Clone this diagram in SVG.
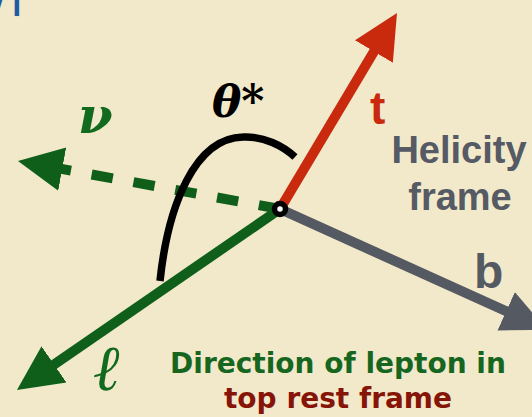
<svg xmlns="http://www.w3.org/2000/svg" width="532" height="417" viewBox="0 0 532 417">
<style>
.sans{font-family:"Liberation Sans",Arial,sans-serif;font-weight:bold}
.hum{font-family:"DejaVu Sans","Verdana",sans-serif;font-weight:bold}
.math{font-family:"DejaVu Serif","Liberation Serif",serif;font-weight:bold;font-style:italic}
.shaft{fill:none;stroke-width:10;stroke-linecap:butt}
</style>
<defs>
<marker id="hRed" markerUnits="userSpaceOnUse" markerWidth="50" markerHeight="50" viewBox="0 -25 50 50" refX="5" refY="0" orient="auto"><path d="M0,-22 L45,0 L0,22 Z" fill="#c9290c"/></marker>
<marker id="hGray" markerUnits="userSpaceOnUse" markerWidth="50" markerHeight="50" viewBox="0 -25 50 50" refX="5" refY="0" orient="auto"><path d="M0,-21 L45,0 L0,21 Z" fill="#545962"/></marker>
<marker id="hGreen" markerUnits="userSpaceOnUse" markerWidth="50" markerHeight="50" viewBox="0 -25 50 50" refX="5" refY="0" orient="auto"><path d="M0,-22 L45,0 L0,22 Z" fill="#0f5f1b"/></marker>
</defs>
<rect width="532" height="417" fill="#f2e9cb"/>
<text class="hum" x="-5" y="5.6" font-size="40" fill="#1f5ca3">/|</text>
<g id="connectors">
<line id="nu-arrow" class="shaft" x1="280" y1="209" x2="57.3" y2="168.2" stroke="#0f5f1b" stroke-dasharray="21.5 21" marker-end="url(#hGreen)"/>
<line id="l-arrow" class="shaft" x1="280" y1="209" x2="49.9" y2="367.3" stroke="#0f5f1b" marker-end="url(#hGreen)"/>
<line id="t-arrow" class="shaft" x1="280" y1="209" x2="376.5" y2="47.3" stroke="#c9290c" marker-end="url(#hRed)"/>
<line id="b-arrow" class="shaft" x1="280" y1="209" x2="510.7" y2="313.3" stroke="#545962" marker-end="url(#hGray)"/>
<path id="theta-arc" d="M160,281 C168,205 195,138 243,137 C264,136 283,146 295,157" fill="none" stroke="#000" stroke-width="7.5"/>
</g>
<g id="origin"><circle cx="280" cy="209" r="5.5" fill="#fff" stroke="#000" stroke-width="5.5"/></g>
<g id="label-theta"><text class="math" x="212" y="117" font-size="44" fill="#000">θ*</text></g>
<g id="label-nu"><text class="math" x="78" y="133" font-size="50" fill="#126a1e">ν</text></g>
<g id="label-l"><text class="math" x="94" y="390" font-size="64" fill="#126a1e">ℓ</text></g>
<g id="label-t"><text class="sans" x="370" y="124" font-size="46" fill="#c9290c">t</text></g>
<g id="label-b"><text class="sans" x="474" y="288" font-size="48" fill="#545962">b</text></g>
<g id="label-helicity"><text class="sans" x="459" y="163" font-size="38" fill="#555a64" text-anchor="middle">Helicity</text><text class="sans" x="460" y="210" font-size="38" fill="#555a64" text-anchor="middle">frame</text></g>
<g id="label-direction"><text class="hum" x="338" y="373" font-size="28" fill="#17661f" text-anchor="middle">Direction of lepton in</text><text class="hum" x="338" y="408" font-size="28" fill="#861508" text-anchor="middle">top rest frame</text></g>
</svg>
